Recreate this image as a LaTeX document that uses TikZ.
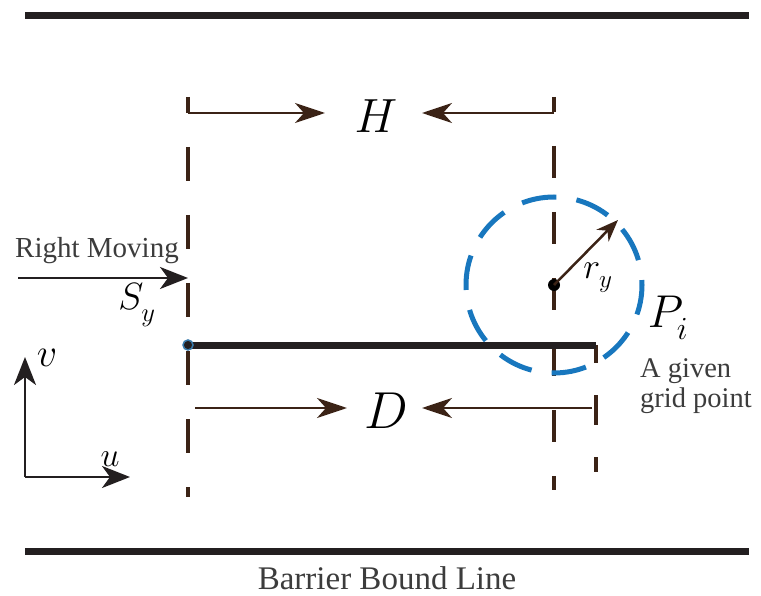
\documentclass[tikz,border=0pt]{standalone}
\usepackage{fix-cm}
\usepackage{fontspec}
\setmainfont{Liberation Serif}
\usetikzlibrary{arrows.meta}
\definecolor{brn}{RGB}{59,35,22}
\definecolor{blk}{RGB}{35,31,32}
\definecolor{cblue}{RGB}{24,119,190}
\definecolor{txtgr}{RGB}{60,60,60}
\begin{document}
\begin{tikzpicture}[x=1pt,y=-1pt,
  bar/.style={blk,line width=7pt},
  vdash/.style={brn,line width=4pt},
  dimarrow/.style={brn,line width=2.5pt,-{Stealth[length=30pt,width=20pt,inset=9pt]}},
  axarrow/.style={blk,line width=2.5pt,-{Stealth[length=28pt,width=22pt,inset=8pt]}},
  lbl/.style={inner sep=0pt,text=txtgr},
  sym/.style={inner sep=0pt}]
\useasboundingbox (0,0) rectangle (761,596);
% barriers
\coordinate (t1) at (25,16); \coordinate (t2) at (749,16);
\coordinate (b1) at (25,551); \coordinate (b2) at (749,551);
\draw[bar] (t1) -- (t2);
\draw[bar] (b1) -- (b2);
\node[lbl,font=\fontsize{33}{36}\selectfont] (barrier) at (387,578) {Barrier Bound Line};
% vertical dashed lines
\coordinate (l1) at (188,97); \coordinate (l2) at (188,497);
\coordinate (r1) at (554,97); \coordinate (r2) at (554,490);
\coordinate (p1) at (596,345); \coordinate (p2) at (596,472);
\draw[vdash,dash pattern=on 34pt off 34pt,dash phase=18pt] (l1) -- (l2);
\draw[vdash,dash pattern=on 32pt off 34pt,dash phase=17pt] (r1) -- (r2);
\draw[vdash,dash pattern=on 30pt off 32pt,dash phase=12pt] (p1) -- (p2);
% H
\coordinate (h1) at (188,113); \coordinate (h2) at (554,113);
\node[sym,font=\fontsize{48}{52}\selectfont] (H) at (376,116) {$H$};
\draw[dimarrow] (h1) -- (325,113);
\draw[dimarrow] (h2) -- (422,113);
% D
\coordinate (d1) at (195,408); \coordinate (d2) at (592,408);
\node[sym,font=\fontsize{52}{56}\selectfont] (D) at (386,411) {$D$};
\draw[dimarrow] (d1) -- (347,408);
\draw[dimarrow] (d2) -- (422,408);
% circle
\coordinate (c) at (554,285);
\draw[cblue,line width=5pt,dash pattern=on 35pt off 20.3pt,dash phase=5pt] (c) circle[radius=88];
% horizontal segment
\coordinate (s1) at (188,345); \coordinate (s2) at (596,345);
\draw[blk,line width=7pt] (s1) -- (s2);
\fill[blk] (s1) circle[radius=4.5];
\draw[cblue!70!gray,line width=1.5pt] (s1) circle[radius=5];
% center dot and radius
\fill[black] (c) circle[radius=6];
\coordinate (rt) at (618,220);
\draw[brn,line width=2.5pt,-{Stealth[length=22pt,width=17pt,inset=7pt]}] (c) -- (rt);
\node[sym,font=\fontsize{36}{40}\selectfont] (ry) at (598,278) {$r_{\raisebox{-4pt}{$\scriptstyle y$}}$};
\node[sym,font=\fontsize{46}{50}\selectfont] (Pi) at (668,318) {$P_{\raisebox{-5pt}{$\scriptstyle i$}}$};
\node[lbl,font=\fontsize{28.5}{30}\selectfont,align=left,anchor=base west] (given) at (640,407) {A given\\grid point};
% right moving
\coordinate (m1) at (18,278); \coordinate (m2) at (188,278);
\node[lbl,font=\fontsize{29}{32}\selectfont,anchor=base west] (rm) at (15,258) {Right Moving};
\draw[axarrow] (m1) -- (m2);
\node[sym,font=\fontsize{38}{42}\selectfont] (Sy) at (137,305) {$S_{\raisebox{-6pt}{$\scriptstyle y$}}$};
% axes
\coordinate (o) at (25,477);
\coordinate (vt) at (25,357); \coordinate (ut) at (130,477);
\draw[axarrow] (o) -- (vt);
\draw[axarrow] (o) -- (ut);
\node[sym,font=\fontsize{40}{44}\selectfont] (v) at (47,358) {$v$};
\node[sym,font=\fontsize{34}{38}\selectfont] (u) at (110,459) {$u$};
\end{tikzpicture}
\end{document}
